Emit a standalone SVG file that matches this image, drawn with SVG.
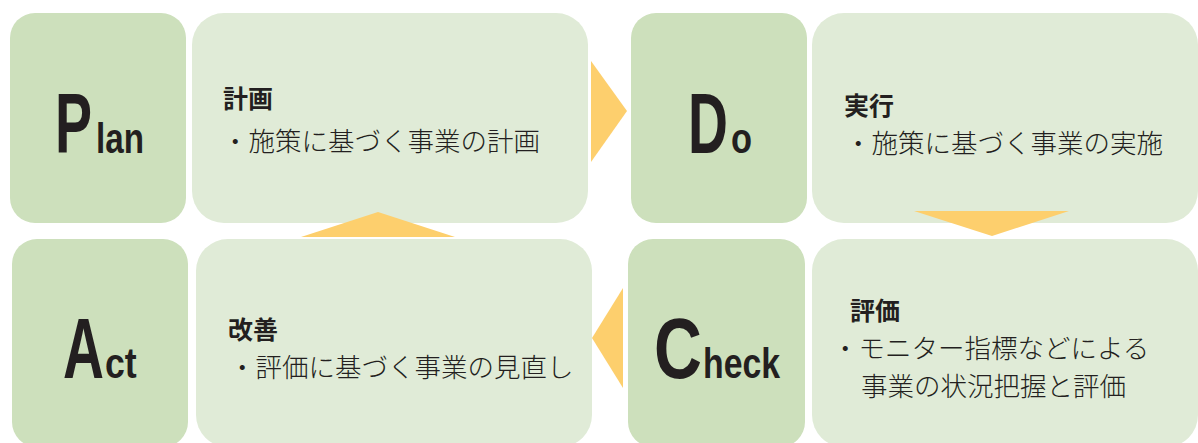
<svg xmlns="http://www.w3.org/2000/svg" width="1198" height="443" viewBox="0 0 1198 443">
<style>
.lb{fill:#cde0bc}
.tb{fill:#e0ebd7}
.ar{fill:#fdcf6d}
.big{font-family:"Liberation Sans",Arial,sans-serif;font-weight:bold;fill:#231f20;font-size:85px}
.sm{font-family:"Liberation Sans",Arial,sans-serif;font-weight:bold;fill:#231f20;font-size:42px}
.hd{font-family:"Noto Sans CJK JP",sans-serif;font-weight:bold;fill:#231f20;font-size:25px}
.bd{font-family:"Noto Sans CJK JP",sans-serif;font-weight:300;fill:#231f20;font-size:26.5px}
</style>
<rect width="1198" height="443" fill="#ffffff"/>
<g id="plan">
<rect class="lb" x="10" y="13" width="176" height="210" rx="25"/>
<text class="big" transform="translate(55,153) scale(0.653,1)">P</text>
<text class="sm" transform="translate(96,153) scale(0.79,1)">lan</text>
</g>
<g id="plan-text">
<rect class="tb" x="192" y="13" width="396" height="210" rx="32"/>
<text class="hd" x="223" y="108">計画</text>
<text class="bd" x="222" y="151">・施策に基づく事業の計画</text>
</g>
<g id="do">
<rect class="lb" x="631" y="13" width="176" height="210" rx="25"/>
<text class="big" transform="translate(688,153) scale(0.651,1)">D</text>
<text class="sm" transform="translate(731,153) scale(0.82,1)">o</text>
</g>
<g id="do-text">
<rect class="tb" x="812" y="13" width="386" height="210" rx="32"/>
<text class="hd" x="844" y="115">実行</text>
<text class="bd" x="845" y="153">・施策に基づく事業の実施</text>
</g>
<g id="act">
<rect class="lb" x="12" y="239" width="176" height="208" rx="25"/>
<text class="big" transform="translate(63,378) scale(0.668,1)">A</text>
<text class="sm" transform="translate(105,378) scale(0.85,1)">ct</text>
</g>
<g id="act-text">
<rect class="tb" x="196" y="239" width="396" height="208" rx="32"/>
<text class="hd" x="228" y="339">改善</text>
<text class="bd" x="229" y="377">・評価に基づく事業の見直し</text>
</g>
<g id="check">
<rect class="lb" x="628" y="239" width="177" height="208" rx="25"/>
<text class="big" transform="translate(654,378) scale(0.78,1)">C</text>
<text class="sm" transform="translate(703,378) scale(0.805,1)">heck</text>
</g>
<g id="check-text">
<rect class="tb" x="812" y="239" width="386" height="208" rx="32"/>
<text class="hd" x="850" y="320">評価</text>
<text class="bd" x="832" y="358">・モニター指標などによる</text>
<text class="bd" x="861" y="396">事業の状況把握と評価</text>
</g>
<g id="connectors">
<polygon class="ar" points="591,61 627,111 591,162"/>
<polygon class="ar" points="914,211 1069,211 992,236"/>
<polygon class="ar" points="623,288 592,338 623,388"/>
<polygon class="ar" points="301,237 378,212 455,237"/>
</g>
</svg>
